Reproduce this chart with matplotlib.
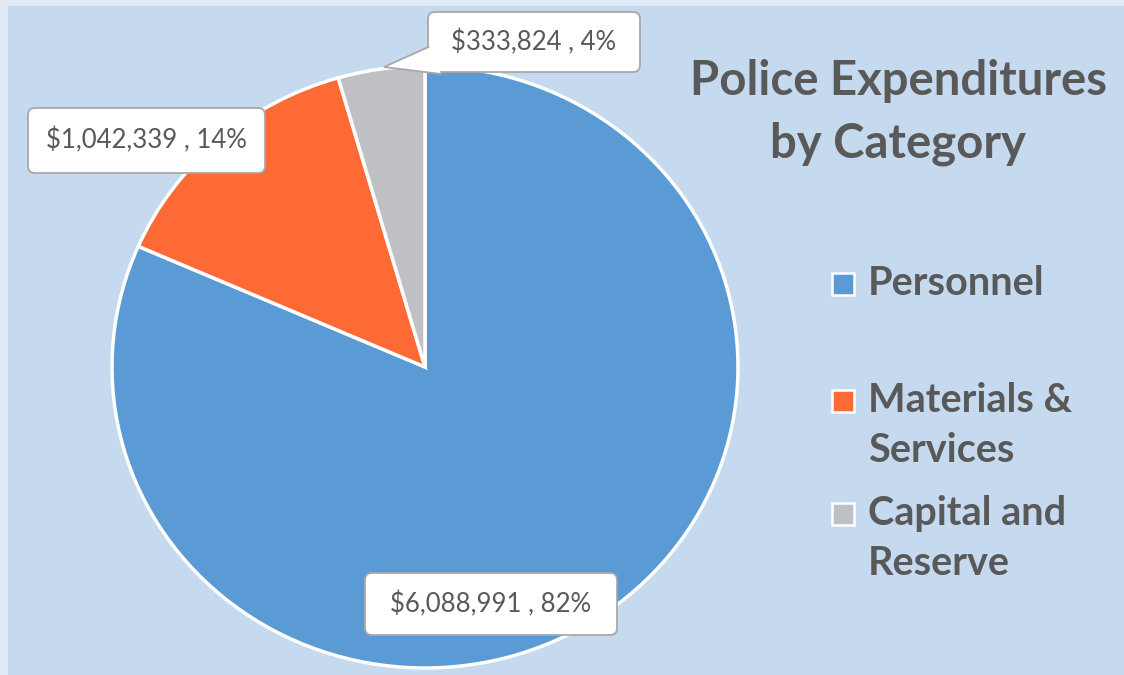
import numpy as np
import matplotlib
matplotlib.use("Agg")
import matplotlib.pyplot as plt
from matplotlib.patches import FancyBboxPatch, Rectangle, Polygon

# data
categories = ["Personnel", "Materials & Services", "Capital and Reserve"]
legend_labels = ["Personnel", "Materials &\nServices", "Capital and\nReserve"]
amounts = [6088991, 1042339, 333824]
percents = [82, 14, 4]
colors = ["#5b9bd5", "#fd6a35", "#bec0c3"]
title = "Police Expenditures\nby Category"

# layout (pixel coords, origin top-left)
W, H = 1124, 675
PIE_BOX = (112, 66, 738, 668)               # left, top, right, bottom
LABEL_BOXES = [(365, 573, 252, 62),          # x0, y0, w, h
               (28, 108, 237, 65),
               (428, 12, 212, 60)]
POINTER = [(428.5, 47), (384, 67), (441, 74)]  # callout for the small slice
LEG_SQ_X = 832
LEG_SQ = 22
LEG_ROWS = [295, 412, 525]                   # first-line baselines
LEG_LINE = 50
TXT = "#595959"
BOX_EC = "#a8a8a8"
FONT = "Lato"

plt.rcParams["font.family"] = [FONT, "DejaVu Sans"]

fig = plt.figure(figsize=(W / 100, H / 100), dpi=100, facecolor="#dfeaf6")

# background panel (thin lighter strip on the top/left like the screenshot)
bg = fig.add_axes([0, 0, 1, 1], zorder=0)
bg.set_xlim(0, W); bg.set_ylim(H, 0); bg.axis("off")
bg.add_patch(Rectangle((8, 6), W, H, fc="#c5d9ef", ec="none"))

# pie
l, t, r, b = PIE_BOX
ax = fig.add_axes([l / W, 1 - b / H, (r - l) / W, (b - t) / H], zorder=1)
wedges, _ = ax.pie(amounts, colors=colors, startangle=90, counterclock=False,
                   radius=1.0, wedgeprops=dict(edgecolor="white", linewidth=2.5))
for w in wedges:
    w.set_clip_on(False)
ax.set_aspect("auto")
ax.set_xlim(-1, 1); ax.set_ylim(-1, 1)
ax.axis("off")

# overlay in pixel units for labels / legend / title
ov = fig.add_axes([0, 0, 1, 1], zorder=2)
ov.set_xlim(0, W); ov.set_ylim(H, 0); ov.axis("off")
ov.patch.set_alpha(0)

for i, (amt, pct) in enumerate(zip(amounts, percents)):
    x0, y0, bw, bh = LABEL_BOXES[i]
    ov.add_patch(FancyBboxPatch((x0, y0), bw, bh,
                                boxstyle="round,pad=0,rounding_size=7",
                                fc="white", ec=BOX_EC, lw=1.3, zorder=3))
    ov.text(x0 + bw / 2, y0 + bh / 2, f"${amt:,} , {pct}%", ha="center",
            va="center", fontsize=18.5, color=TXT, zorder=5)

# callout pointer of the small slice label
ov.add_patch(Polygon(POINTER, closed=True, fc="white", ec="none", zorder=4))
px, py = zip(*POINTER)
ov.plot(px, py, color=BOX_EC, lw=1.3, zorder=4, solid_joinstyle="miter")

# title
ov.text(898, 95, title.split("\n")[0], ha="center", va="baseline",
        fontsize=34, fontweight="bold", color=TXT)
ov.text(898, 157, title.split("\n")[1], ha="center", va="baseline",
        fontsize=34, fontweight="bold", color=TXT)

# legend
for lab, col, yb in zip(legend_labels, colors, LEG_ROWS):
    ov.add_patch(Rectangle((LEG_SQ_X, yb - LEG_SQ), LEG_SQ, LEG_SQ,
                           fc=col, ec="white", lw=1.8))
    for j, line in enumerate(lab.split("\n")):
        ov.text(LEG_SQ_X + 36, yb + j * LEG_LINE, line, ha="left",
                va="baseline", fontsize=28.5, fontweight="bold", color=TXT)

fig.savefig("out.png", dpi=100, facecolor=fig.get_facecolor())
